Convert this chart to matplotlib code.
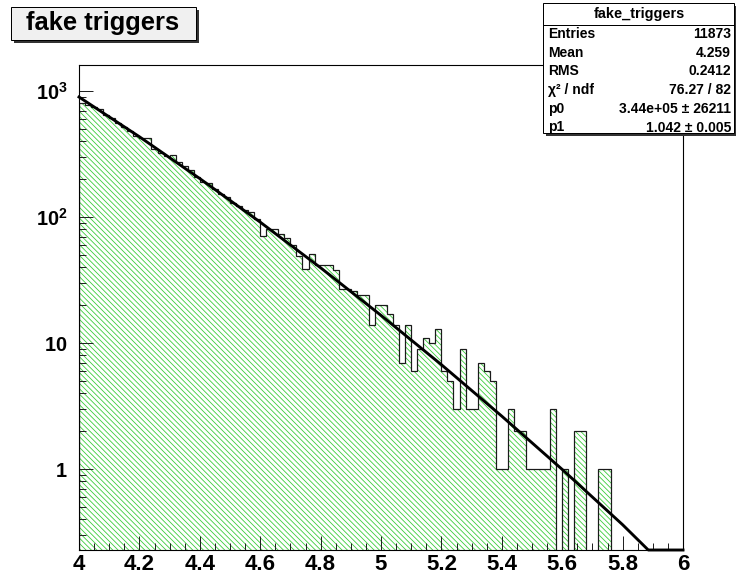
import numpy as np
import matplotlib
matplotlib.use('Agg')
import matplotlib.pyplot as plt
from matplotlib.patches import Rectangle
from matplotlib.lines import Line2D
from matplotlib.ticker import MultipleLocator, FixedLocator, LogLocator, NullFormatter

# histogram: 100 bins of 0.02 between 4 and 6
x_lo, x_hi, n_bins = 4.0, 6.0, 100
counts = [805, 782, 747, 718, 640, 615, 558, 516, 485, 441,
          421, 421, 349, 323, 306, 312, 275, 253, 236, 209,
          191, 185, 168, 153, 144, 129, 123, 113, 109, 97,
          71, 81, 81, 74, 68, 60, 49, 39, 51, 42,
          42, 42, 38, 27, 27, 26, 24, 24, 14, 20,
          20, 17, 14, 7, 14, 6, 9, 11, 10, 13,
          6, 5, 3, 9, 3, 3, 7, 6, 5, 1,
          1, 3, 2, 2, 1, 1, 1, 1, 3, 0,
          1, 0, 2, 2, 0, 0, 1, 1, 0, 0,
          0, 0, 0, 0, 0, 0, 0, 0, 0, 0]

# fit curve
fit_x = [4.0, 4.2, 4.4, 4.6, 4.8, 5.0, 5.2, 5.4, 5.6, 5.8, 5.885, 6.0]
fit_y = [897, 434, 202, 91.2, 39.6, 16.6, 6.74, 2.63, 0.994, 0.362, 0.228, 0.127]

xticks = [4.0, 4.2, 4.4, 4.6, 4.8, 5.0, 5.2, 5.4, 5.6, 5.8, 6.0]
xtick_labels = ['4', '4.2', '4.4', '4.6', '4.8', '5', '5.2', '5.4', '5.6', '5.8', '6']
yticks = [1, 10, 100, 1000]
ytick_labels = [r'$\mathbf{1}$', r'$\mathbf{10}$', r'$\mathbf{10^{2}}$', r'$\mathbf{10^{3}}$']

stat_names = ['Entries', 'Mean', 'RMS', 'χ² / ndf', 'p0', 'p1']
stat_values = ['11873', '4.259', '0.2412', '76.27 / 82', '3.44e+05 ± 26211', '1.042 ± 0.005']

plt.rcParams['font.family'] = ['Liberation Sans', 'DejaVu Sans']
plt.rcParams['mathtext.fontset'] = 'custom'
plt.rcParams['mathtext.bf'] = 'Liberation Sans:bold'
plt.rcParams['mathtext.rm'] = 'Liberation Sans'
plt.rcParams['hatch.linewidth'] = 0.75

W, H = 736, 579
ymin, ymax = 0.228, 1610

fig = plt.figure(figsize=(W / 80, H / 80), dpi=80)
ax = fig.add_axes([79 / W, 29 / H, 604 / W, 485 / H])

edges = np.linspace(x_lo, x_hi, n_bins + 1)
c = np.array(counts, dtype=float)
draw = np.where(c > 0, c, 1e-3)
ax.stairs(draw, edges, baseline=1e-3, fill=True, facecolor='none',
          edgecolor='#3ccc3c', hatch='\\' * 5, linewidth=0)
ax.stairs(draw, edges, baseline=1e-3, color='#1a1a1a', linewidth=1.1)

ax.plot(fit_x, np.maximum(fit_y, ymin), color='black', lw=2.6, clip_on=False, zorder=5)

ax.set_yscale('log')
ax.set_xlim(x_lo, x_hi)
ax.set_ylim(ymin, ymax)

ax.xaxis.set_major_locator(FixedLocator(xticks))
ax.set_xticklabels(xtick_labels)
ax.xaxis.set_minor_locator(MultipleLocator(0.05))
ax.yaxis.set_major_locator(FixedLocator(yticks))
ax.set_yticklabels(ytick_labels)
ax.yaxis.set_minor_locator(LogLocator(base=10, subs=np.arange(2, 10)))
ax.yaxis.set_minor_formatter(NullFormatter())

ax.tick_params(which='both', direction='in', top=False, right=False, color='#222222', width=0.9)
ax.tick_params(which='major', length=12.5)
ax.tick_params(which='minor', length=6)
ax.tick_params(axis='x', pad=4, labelsize=20)
ax.tick_params(axis='y', pad=10.5, labelsize=18)
for lab in ax.get_xticklabels():
    lab.set_fontweight('bold')
for s in ax.spines.values():
    s.set_linewidth(1.0)


def px(x, y):
    return x / W, 1 - y / H


def box(x0, y0, x1, y1, fc):
    # shadow then box, pixel coords (top-left origin)
    fig.patches.append(Rectangle(px(x0 + 3, y1 + 3), (x1 - x0) / W, (y1 - y0) / H,
                                 transform=fig.transFigure, fc='#333333', ec='none'))
    fig.patches.append(Rectangle(px(x0, y1), (x1 - x0) / W, (y1 - y0) / H,
                                 transform=fig.transFigure, fc=fc, ec='black', lw=0.9))


box(11, 7, 196, 40, '#f0f0f0')
fig.text(*px(103, 23), 'fake triggers', ha='center', va='center',
         fontsize=23, fontweight='bold')

box(543, 3, 734, 133, 'white')
fig.lines.append(Line2D([543 / W, 734 / W], [1 - 25 / H, 1 - 25 / H],
                        transform=fig.transFigure, color='black', lw=0.9))
fig.text(*px(639, 14), 'fake_triggers', ha='center', va='center',
         fontsize=13, fontweight='bold')
for i, (nm, val) in enumerate(zip(stat_names, stat_values)):
    yy = 34 + 18.7 * i
    fig.text(*px(548, yy), nm, ha='left', va='center', fontsize=12.5, fontweight='bold')
    fig.text(*px(731, yy), val, ha='right', va='center', fontsize=12.5, fontweight='bold')

fig.savefig('out.png', dpi=80)
